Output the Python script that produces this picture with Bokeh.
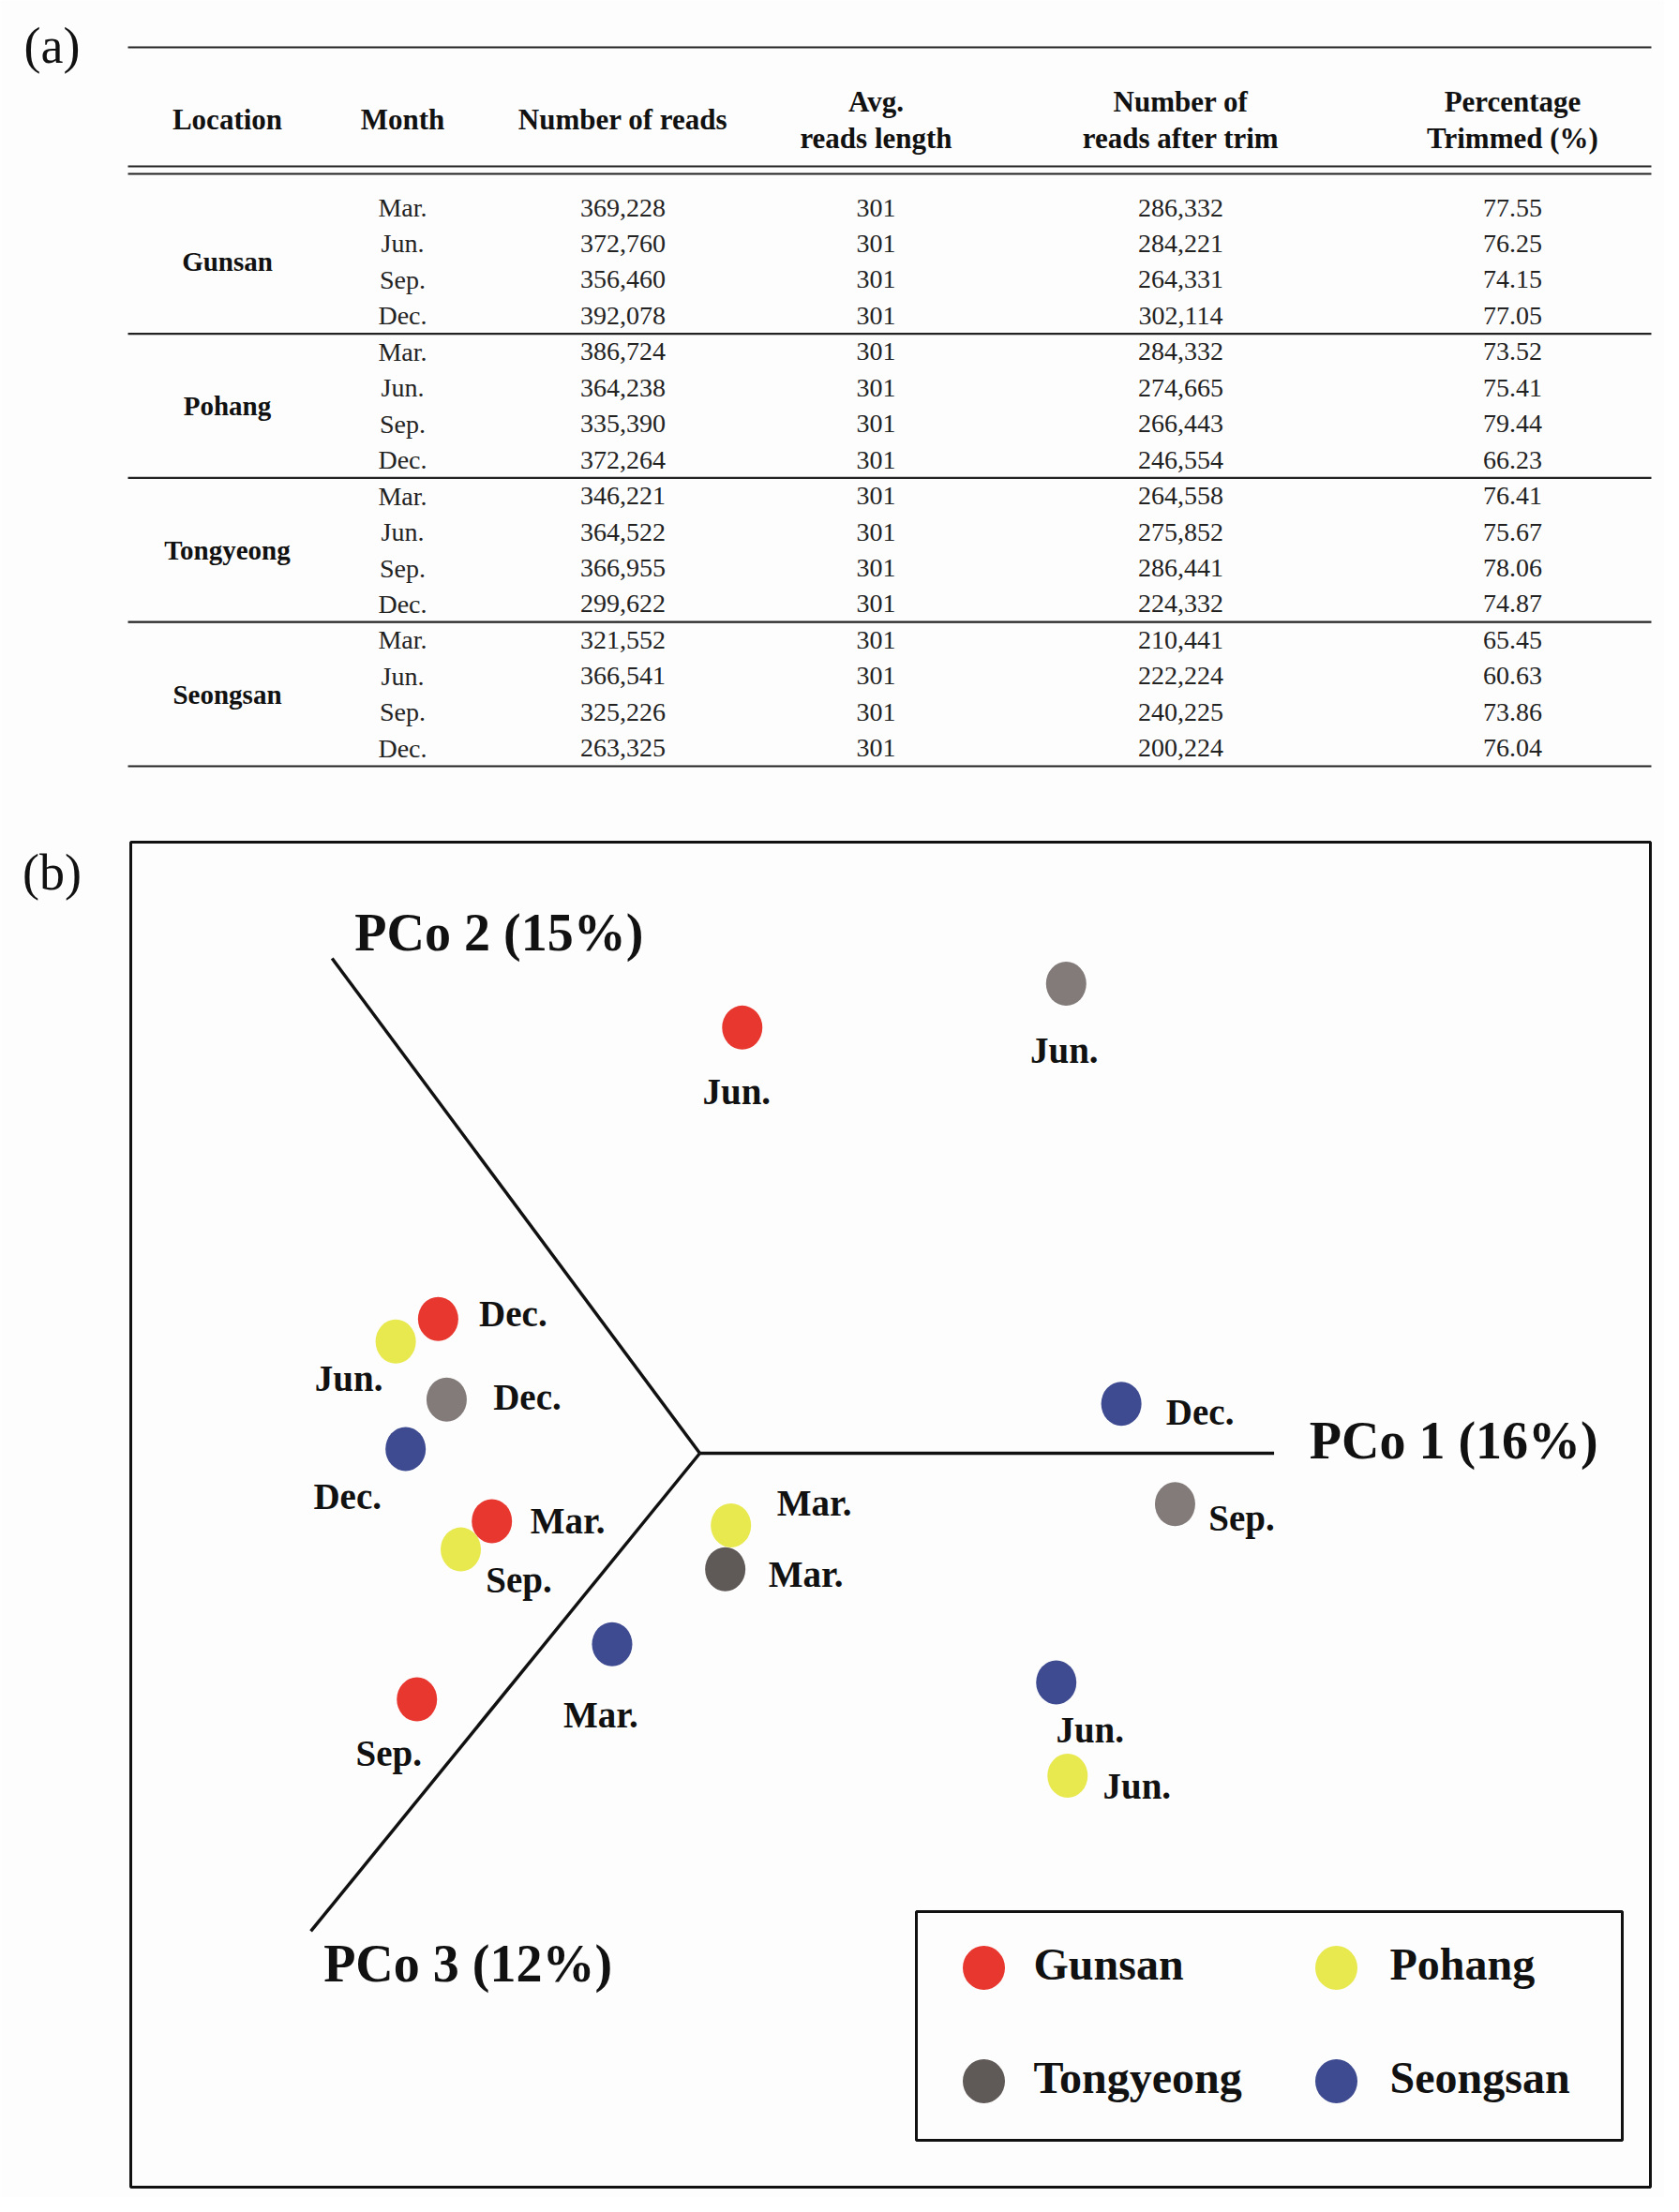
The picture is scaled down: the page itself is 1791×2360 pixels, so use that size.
from bokeh.plotting import figure
from bokeh.models import Range1d, ColumnDataSource
from bokeh.core.properties import value
from bokeh.embed import file_html
from bokeh.resources import INLINE

# ---------------- data: table (a) ----------------
locations = ["Gunsan", "Pohang", "Tongyeong", "Seongsan"]
months = ["Mar.", "Jun.", "Sep.", "Dec."]
num_reads = [369228, 372760, 356460, 392078,
             386724, 364238, 335390, 372264,
             346221, 364522, 366955, 299622,
             321552, 366541, 325226, 263325]
avg_length = [301, 301, 301, 301,
              301, 301, 301, 301,
              301, 301, 301, 301,
              301, 301, 301, 301]
reads_after_trim = [286332, 284221, 264331, 302114,
                    284332, 274665, 266443, 246554,
                    264558, 275852, 286441, 224332,
                    210441, 222224, 240225, 200224]
pct_trimmed = [77.55, 76.25, 74.15, 77.05,
               73.52, 75.41, 79.44, 66.23,
               76.41, 75.67, 78.06, 74.87,
               65.45, 60.63, 73.86, 76.04]
headers = [["Location"], ["Month"], ["Number of reads"],
           ["Avg.", "reads length"], ["Number of", "reads after trim"],
           ["Percentage", "Trimmed (%)"]]

# ---------------- data: PCoA (b) ----------------
pco_group = ["Gunsan", "Gunsan", "Gunsan", "Gunsan",
             "Pohang", "Pohang", "Pohang", "Pohang",
             "Tongyeong", "Tongyeong", "Tongyeong", "Tongyeong",
             "Seongsan", "Seongsan", "Seongsan", "Seongsan"]
pco_label = ["Mar.", "Jun.", "Sep.", "Dec.",
             "Mar.", "Jun.", "Sep.", "Jun.",
             "Mar.", "Jun.", "Sep.", "Dec.",
             "Mar.", "Jun.", "Dec.", "Dec."]
pco_x = [-1.47, 0.30, -2.00, -1.85,
         0.22, -2.15, -1.69, 2.60,
         0.18, 2.59, 3.36, -1.79,
         -0.62, 2.52, -2.08, 2.98]
pco_y = [-0.48, 3.01, -1.74, 0.95,
         -0.51, 0.79, -0.68, -2.28,
         -0.82, 3.32, -0.36, 0.38,
         -1.35, -1.62, 0.03, 0.35]
axis_labels = ["PCo 1 (16%)", "PCo 2 (15%)", "PCo 3 (12%)"]
legend_names = ["Gunsan", "Pohang", "Tongyeong", "Seongsan"]

# ---------------- styles ----------------
group_color = {"Gunsan": "#E8372F", "Pohang": "#E8E84F",
               "Tongyeong": "#5F5957", "Seongsan": "#3E4B91"}
light_grey = "#827B7A"
# label offsets (screen px) relative to each point
lab_dx = [81, -6, -30, 80, 89, -50, 62, 74, 86, -2, 71, 86, -12, 36, -62, 84]
lab_dy = [0, 68, 57, -6, -24, 39, 32, 11, 5, 71, 15, -3, 75, 51, 51, 9]

SERIF = value("Liberation Serif")
W, H = 1775, 2344
OFF = 4
p = figure(width=W, height=H, x_range=Range1d(OFF, W + OFF), y_range=Range1d(H + OFF, OFF),
           output_backend="svg", toolbar_location=None, min_border=0,
           x_axis_location=None, y_axis_location=None)
p.grid.visible = False
p.outline_line_color = None
p.background_fill_color = "#FDFDFD"
p.border_fill_color = "#FDFDFD"

# PCoA coordinate system mapped onto the page
OX, OY, S = 750.0, 1554.0, 150.88
p.extra_x_ranges = {"pc": Range1d((OFF - OX) / S, (W + OFF - OX) / S)}
p.extra_y_ranges = {"pc": Range1d((OY - (H + OFF)) / S, (OY - OFF) / S)}

# ---------------- panel labels ----------------
p.text(x=[59, 59], y=[52, 934], text=["(a)", "(b)"], text_font=SERIF,
       text_font_size="54px", text_align="center", text_baseline="middle", text_color="#111111")

# ---------------- table ----------------
TL, TR = 140, 1765
row0, rstep = 225.0, 38.45
col_x = [246, 433, 668, 938, 1263, 1617]
p.segment(x0=[TL] * 3, x1=[TR] * 3, y0=[54, 181, 189], y1=[54, 181, 189],
          line_color="#222222", line_width=2.2)
sep_y = [row0 + rstep * (4 * g + 3.5) for g in range(4)]
p.segment(x0=[TL] * 4, x1=[TR] * 4, y0=sep_y, y1=sep_y, line_color="#222222", line_width=2.2)

hx, hy, ht = [], [], []
for cx, lines in zip(col_x, headers):
    if len(lines) == 1:
        hx.append(cx); hy.append(131); ht.append(lines[0])
    else:
        hx += [cx, cx]; hy += [112, 151]; ht += lines
p.text(x=hx, y=hy, text=ht, text_font=SERIF, text_font_style="bold", text_font_size="31px",
       text_align="center", text_baseline="middle", text_color="#111111")

lx = [col_x[0]] * 4
ly = [row0 + rstep * (4 * g + 1.5) for g in range(4)]
p.text(x=lx, y=ly, text=locations, text_font=SERIF, text_font_style="bold", text_font_size="29px",
       text_align="center", text_baseline="middle", text_color="#111111")

n = len(num_reads)
ry = [row0 + rstep * i for i in range(n)]
cells_x, cells_y, cells_t = [], [], []
for i in range(n):
    vals = [months[i % 4], f"{num_reads[i]:,}", f"{avg_length[i]}",
            f"{reads_after_trim[i]:,}", f"{pct_trimmed[i]:.2f}"]
    for cx, t in zip(col_x[1:], vals):
        cells_x.append(cx); cells_y.append(ry[i]); cells_t.append(t)
p.text(x=cells_x, y=cells_y, text=cells_t, text_font=SERIF, text_font_size="28px",
       text_align="center", text_baseline="middle", text_color="#222222")

# ---------------- PCoA panel ----------------
p.quad(left=[143], right=[1764], top=[902], bottom=[2337], fill_color=None,
       line_color="#111111", line_width=3)

ax_end_x = [4.06, -2.60, -2.75]
ax_end_y = [0.0, 3.50, -3.38]
p.segment(x0=[0, 0, 0], y0=[0, 0, 0], x1=ax_end_x, y1=ax_end_y, line_color="#111111",
          line_width=3.5, x_range_name="pc", y_range_name="pc")
p.text(x=[4.31, -2.44, -2.66], y=[0.09, 3.68, -3.61], text=axis_labels, text_font=SERIF,
       text_font_style="bold", text_font_size="56px", text_align="left", text_baseline="middle",
       text_color="#111111", x_range_name="pc", y_range_name="pc")

colors = []
for g, m in zip(pco_group, pco_label):
    if g == "Tongyeong" and m != "Mar.":
        colors.append(light_grey)
    else:
        colors.append(group_color[g])
src = ColumnDataSource(dict(x=pco_x, y=pco_y, lab=pco_label, color=colors, dx=lab_dx, dy=lab_dy))
p.ellipse(x="x", y="y", width=43, height=47, width_units="screen", height_units="screen",
          fill_color="color", line_color=None, source=src, x_range_name="pc", y_range_name="pc")
p.text(x="x", y="y", text="lab", x_offset="dx", y_offset="dy", source=src, text_font=SERIF,
       text_font_style="bold", text_font_size="39px", text_align="center", text_baseline="middle",
       text_color="#111111", x_range_name="pc", y_range_name="pc")

# ---------------- legend ----------------
p.quad(left=[981], right=[1734], top=[2043], bottom=[2287], fill_color=None,
       line_color="#111111", line_width=3)
leg_dot_x = [1053, 1429, 1053, 1429]
leg_dot_y = [2103, 2103, 2224, 2224]
p.ellipse(x=leg_dot_x, y=leg_dot_y, width=45, height=47, width_units="screen", height_units="screen",
          fill_color=[group_color[g] for g in legend_names], line_color=None)
p.text(x=[1106, 1486, 1106, 1486], y=[2099, 2099, 2220, 2220], text=legend_names, text_font=SERIF,
       text_font_style="bold", text_font_size="48px", text_align="left", text_baseline="middle",
       text_color="#111111")

open("out.html", "w").write(file_html(p, INLINE))
